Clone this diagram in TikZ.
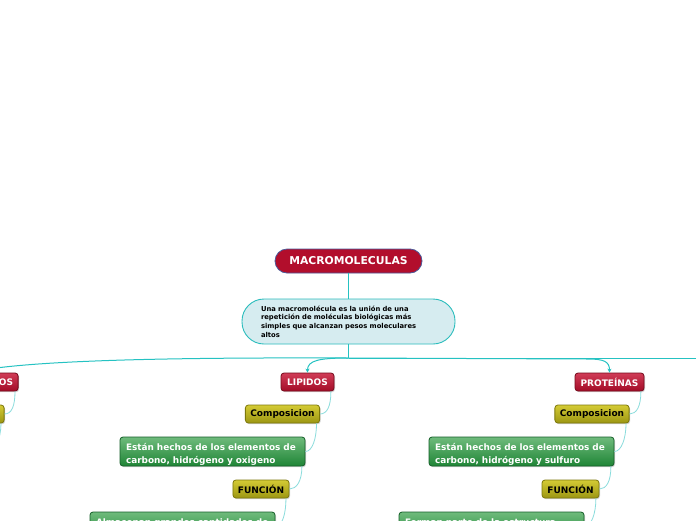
\documentclass[tikz,border=0pt]{standalone}
\usepackage{fontspec}
\setmainfont{DejaVu Sans}
\usetikzlibrary{arrows.meta,shadows}
\definecolor{redtop}{HTML}{D03C57}
\definecolor{redbot}{HTML}{A30C27}
\definecolor{redline}{HTML}{760A1C}
\definecolor{macrofill}{HTML}{B20E2C}
\definecolor{macroline}{HTML}{4A5A9A}
\definecolor{descfill}{HTML}{D6ECF0}
\definecolor{descline}{HTML}{2CBDBD}
\definecolor{yeltop}{HTML}{D4CB35}
\definecolor{yelbot}{HTML}{9C9612}
\definecolor{yelline}{HTML}{7D780C}
\definecolor{grntop}{HTML}{6FBB7C}
\definecolor{grnbot}{HTML}{1F8536}
\definecolor{grnline}{HTML}{16602A}
\definecolor{mainline}{HTML}{25C2C2}
\definecolor{subline}{HTML}{8ADCDC}
\begin{document}
\begin{tikzpicture}[x=1pt,y=-1pt,
  softshadow/.style={general shadow={fill=black!18, shadow xshift=1pt, shadow yshift=-1.2pt}},
  tag/.style={rounded corners=3pt, draw, line width=0.8pt, inner ysep=0pt, inner xsep=5pt,
    minimum height=18pt, font=\fontsize{9}{10}\selectfont\bfseries, softshadow},
  redtag/.style={tag, draw=redline, top color=redtop, bottom color=redbot, text=white},
  yeltag/.style={tag, draw=yelline, top color=yeltop, bottom color=yelbot, text=black},
  grnbox/.style={rounded corners=3pt, draw=grnline, line width=0.8pt, top color=grntop, bottom color=grnbot,
    minimum width=185pt, minimum height=29pt, inner sep=0pt, softshadow},
  grntext/.style={text=white, font=\fontsize{8.9}{12.5}\selectfont\bfseries, align=left,
    text width=173pt, inner sep=0pt, yshift=-3pt},
  mainconn/.style={draw=mainline, line width=1pt},
  subconn/.style={draw=subline, line width=0.8pt},
  tip/.style={-{Stealth[length=4pt,width=4pt]}}
]
\clip (0,0) rectangle (696,520);
\fill[white] (0,0) rectangle (696,520);

% main nodes
\node[rounded corners=12pt, draw=macroline, line width=0.8pt, fill=macrofill, text=white,
  font=\fontsize{10.8}{12}\selectfont\bfseries, minimum width=147pt, minimum height=24pt, inner sep=0pt]
  (macro) at (348.5,261) {MACROMOLECULAS};
\node[rounded corners=22pt, draw=descline, line width=0.9pt, fill=descfill, text=black,
  font=\fontsize{6.8}{8.7}\selectfont\bfseries, align=left, text width=175pt,
  minimum width=213pt, minimum height=45pt, inner sep=0pt]
  (desc) at (348.5,321.5) {Una macromolécula es la unión de una\\repetición de moléculas biológicas más\\simples que alcanzan pesos moleculares\\altos};

\coordinate (j) at (348.5,358);
\coordinate (pbend) at (588,359);
\coordinate (roff) at (720,358);

% category nodes
\node[redtag, anchor=east] (carb) at (18.5,382) {CARBOHIDRATOS};
\node[redtag, minimum width=53pt] (lip) at (307.5,382) {LIPIDOS};
\node[redtag, minimum width=69pt] (prot) at (609.5,382) {PROTEÍNAS};

% left branch (mostly off picture)
\node[yeltag, minimum width=74pt, anchor=east] (carbc) at (4.5,414) {Composicion};
\coordinate (carbg) at (-12,451.5);

% lipids branch
\node[yeltag, minimum width=74pt] (lipc) at (282.5,414) {Composicion};
\node[grnbox, label={[grntext]center:{Están hechos de los elementos de\\carbono, hidrógeno y oxigeno}}] (lipg) at (212.5,451.5) {};
\node[yeltag, minimum width=56pt] (lipf) at (261,489) {FUNCIÓN};
\node[grnbox, label={[grntext]center:{Almacenan grandes cantidades de\\energía}}] (lipg2) at (182.5,526.5) {};

% proteins branch
\node[yeltag, minimum width=74pt] (protc) at (592,414) {Composicion};
\node[grnbox, label={[grntext]center:{Están hechos de los elementos de\\carbono, hidrógeno y sulfuro}}] (protg) at (521.5,451.5) {};
\node[yeltag, minimum width=57pt] (protf) at (570.5,489) {FUNCIÓN};
\node[grnbox, label={[grntext]center:{Forman parte de la estructura\\de los tejidos}}] (protg2) at (491.5,526.5) {};

% main connectors
\draw[mainconn] (macro.south) -- (desc.north);
\draw[mainconn] (desc.south) -- (j);
\draw[mainconn, tip] (j) .. controls +(-30,0) and +(0,-12) .. (lip.north);
\draw[mainconn, tip] (j) -- (pbend) .. controls +(16,0) and +(0,-11) .. (prot.north);
\draw[mainconn] (j) -- (roff);
\draw[mainconn, tip] (j) .. controls (200,357.5) and (30,359) .. (carb.north);

% sub connectors
\foreach \a/\b in {carb/carbc, lip/lipc, lipc/lipg, lipg/lipf, lipf/lipg2,
                   prot/protc, protc/protg, protg/protf, protf/protg2}{
  \draw[subconn] ([xshift=-3.5pt]\a.south east) .. controls +(0,15) and +(7,0) .. (\b.east);
}
\draw[subconn] ([xshift=-3.5pt]carbc.south east) .. controls +(0,15) and +(7,0) .. (carbg);
\end{tikzpicture}
\end{document}
